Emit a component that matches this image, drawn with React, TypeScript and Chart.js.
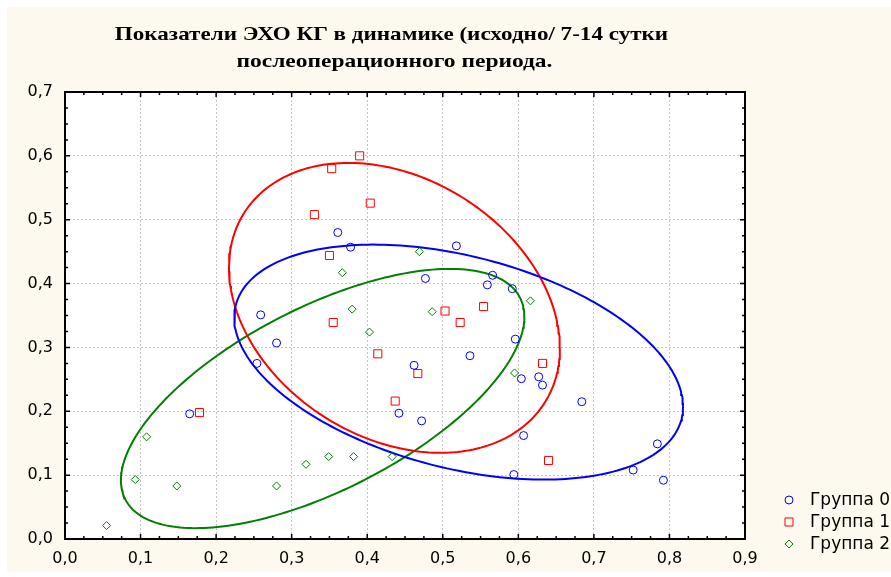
import React, { useEffect, useRef } from 'react';
import { Chart, registerables } from 'chart.js';

Chart.register(...registerables);

// Echo-CG indices per patient group
const group0X = [0.165, 0.254, 0.259, 0.280, 0.361, 0.378, 0.477, 0.518, 0.559, 0.566, 0.592, 0.596, 0.536, 0.462, 0.442, 0.472, 0.604, 0.627, 0.632, 0.607, 0.594, 0.684, 0.752, 0.784, 0.792];
const group0Y = [0.196, 0.275, 0.351, 0.307, 0.480, 0.457, 0.408, 0.459, 0.398, 0.413, 0.392, 0.313, 0.287, 0.272, 0.197, 0.185, 0.251, 0.254, 0.241, 0.162, 0.101, 0.215, 0.108, 0.149, 0.092];

const group1X = [0.178, 0.330, 0.353, 0.390, 0.404, 0.350, 0.355, 0.414, 0.467, 0.437, 0.503, 0.523, 0.554, 0.632, 0.640];
const group1Y = [0.198, 0.508, 0.580, 0.600, 0.526, 0.444, 0.339, 0.290, 0.259, 0.216, 0.357, 0.339, 0.364, 0.275, 0.123];

const group2X = [0.055, 0.093, 0.108, 0.148, 0.280, 0.319, 0.349, 0.382, 0.433, 0.367, 0.380, 0.403, 0.469, 0.486, 0.595, 0.616];
const group2Y = [0.021, 0.093, 0.160, 0.083, 0.083, 0.117, 0.129, 0.129, 0.129, 0.417, 0.360, 0.324, 0.450, 0.356, 0.260, 0.373];

// Ellipse per group: centre, half-extent along x and y, correlation
const ellipseCenterX = [0.521, 0.436, 0.341];
const ellipseCenterY = [0.277, 0.362, 0.220];
const ellipseHalfX = [0.297, 0.219, 0.267];
const ellipseHalfY = [0.184, 0.227, 0.203];
const ellipseCorr = [-0.379, -0.278, 0.631];

const groupNames = ['Группа 0', 'Группа 1', 'Группа 2'];
const groupColors = ['#0000ff', '#ff0000', '#008000'];
const groupMarkers = ['circle', 'rect', 'rectRot'];

const titleLines = ['Показатели ЭХО КГ в динамике (исходно/ 7-14 сутки', 'послеоперационного периода.'];

const xRange = [0, 0.9];
const yRange = [0, 0.7];
const majorStep = 0.1;
const minorStep = 0.025;

const fmt = (v: number) => v.toFixed(1).replace('.', ',');

const toPoints = (xs: number[], ys: number[]) => xs.map((x, i) => ({ x, y: ys[i] }));

// Outline of an ellipse given by its centre, x/y half-extents and correlation
function ellipseOutline(i: number, steps = 240) {
  const cx = ellipseCenterX[i];
  const cy = ellipseCenterY[i];
  const hx = ellipseHalfX[i];
  const hy = ellipseHalfY[i];
  const r = ellipseCorr[i];
  const q = Math.sqrt(1 - r * r);
  const pts: { x: number; y: number }[] = [];
  for (let k = 0; k <= steps; k++) {
    const t = (k / steps) * Math.PI * 2;
    const c = Math.cos(t);
    const s = Math.sin(t);
    pts.push({ x: cx + hx * c, y: cy + hy * (r * c + q * s) });
  }
  return pts;
}

const backgroundPlugin = {
  id: 'pageBackground',
  beforeDraw(chart: any) {
    const { ctx, width, height, chartArea } = chart;
    ctx.save();
    ctx.fillStyle = '#ffffff';
    ctx.fillRect(0, 0, width, height);
    ctx.fillStyle = '#fef9ee';
    ctx.fillRect(7, 7, width - 7, height - 12);
    ctx.fillStyle = '#ffffff';
    ctx.fillRect(chartArea.left, chartArea.top, chartArea.right - chartArea.left, chartArea.bottom - chartArea.top);
    ctx.restore();
  },
};

const drawStretched = (ctx: CanvasRenderingContext2D, text: string, x: number, y: number, sx: number) => {
  ctx.save();
  ctx.translate(x, y);
  ctx.scale(sx, 1);
  ctx.fillText(text, 0, 0);
  ctx.restore();
};

const framePlugin = {
  id: 'frameAndTicks',
  afterDraw(chart: any) {
    const { ctx, chartArea, scales } = chart;
    const { left, right, top, bottom } = chartArea;
    ctx.save();
    ctx.strokeStyle = '#000000';
    ctx.lineWidth = 1.5;
    ctx.beginPath();
    const nx = Math.round((xRange[1] - xRange[0]) / minorStep);
    for (let i = 0; i <= nx; i++) {
      const px = scales.x.getPixelForValue(xRange[0] + i * minorStep);
      const len = i % 4 === 0 ? 5 : 3;
      ctx.moveTo(px, bottom);
      ctx.lineTo(px, bottom - len);
      ctx.moveTo(px, top);
      ctx.lineTo(px, top + len);
    }
    const ny = Math.round((yRange[1] - yRange[0]) / minorStep);
    for (let i = 0; i <= ny; i++) {
      const py = scales.y.getPixelForValue(yRange[0] + i * minorStep);
      const len = i % 4 === 0 ? 5 : 3;
      ctx.moveTo(left, py);
      ctx.lineTo(left + len, py);
      ctx.moveTo(right, py);
      ctx.lineTo(right - len, py);
    }
    ctx.stroke();
    ctx.lineWidth = 2;
    ctx.strokeRect(left, top, right - left, bottom - top);

    // title
    ctx.fillStyle = '#000000';
    ctx.font = 'bold 19px "Liberation Serif", "Times New Roman", serif';
    ctx.textAlign = 'center';
    ctx.textBaseline = 'alphabetic';
    drawStretched(ctx, titleLines[0], 391.5, 40, 1.215);
    drawStretched(ctx, titleLines[1], 394.5, 67, 1.235);

    // legend
    ctx.font = '17px "DejaVu Sans", sans-serif';
    ctx.textAlign = 'left';
    ctx.textBaseline = 'middle';
    groupNames.forEach((name, i) => {
      const cy = 500 + i * 22;
      const cx = 789;
      ctx.strokeStyle = groupColors[i];
      ctx.lineWidth = 1;
      ctx.beginPath();
      if (groupMarkers[i] === 'circle') {
        ctx.arc(cx, cy, 4, 0, Math.PI * 2);
      } else if (groupMarkers[i] === 'rect') {
        ctx.rect(cx - 4, cy - 4, 8, 8);
      } else {
        ctx.moveTo(cx - 4, cy);
        ctx.lineTo(cx, cy - 4);
        ctx.lineTo(cx + 4, cy);
        ctx.lineTo(cx, cy + 4);
        ctx.closePath();
      }
      ctx.stroke();
      ctx.fillStyle = '#000000';
      ctx.fillText(name, 810, cy + 1);
    });
    ctx.restore();
  },
};

export default function App() {
  const canvasRef = useRef<HTMLCanvasElement | null>(null);

  useEffect(() => {
    const canvas = canvasRef.current;
    if (!canvas) return;
    const xs = [group0X, group1X, group2X];
    const ys = [group0Y, group1Y, group2Y];

    const pointSets = groupNames.map((name, i) => ({
      label: name,
      data: toPoints(xs[i], ys[i]),
      pointStyle: groupMarkers[i],
      pointRadius: groupMarkers[i] === 'rect' ? 5.7 : 4,
      pointBorderWidth: 1,
      pointBorderColor: groupColors[i],
      pointBackgroundColor: 'rgba(0,0,0,0)',
      borderColor: groupColors[i],
      backgroundColor: 'rgba(0,0,0,0)',
      showLine: false,
    }));

    const ellipseSets = groupNames.map((name, i) => ({
      label: name + ' ellipse',
      data: ellipseOutline(i),
      showLine: true,
      pointRadius: 0,
      borderWidth: 2,
      borderColor: groupColors[i],
      backgroundColor: 'rgba(0,0,0,0)',
      fill: false,
      tension: 0,
    }));

    const tickFont = { family: '"DejaVu Sans", sans-serif', size: 16 };

    const chart = new Chart(canvas, {
      type: 'scatter',
      data: { datasets: [...pointSets, ...ellipseSets] as any },
      options: {
        animation: false,
        responsive: false,
        maintainAspectRatio: false,
        layout: { padding: { left: 0, top: 92, right: 146, bottom: 0 } },
        plugins: {
          legend: { display: false },
          title: { display: false },
          tooltip: { enabled: false },
        },
        scales: {
          x: {
            type: 'linear',
            min: xRange[0],
            max: xRange[1],
            afterFit: (scale: any) => { scale.height = 38; },
            ticks: {
              stepSize: majorStep,
              color: '#000000',
              font: tickFont,
              padding: 10,
              maxRotation: 0,
              callback: (v: any) => fmt(Number(v)),
            },
            grid: { color: '#c4c4c4', lineWidth: 1, drawTicks: false },
            border: { display: false, dash: [2, 2] },
          },
          y: {
            type: 'linear',
            min: yRange[0],
            max: yRange[1],
            afterFit: (scale: any) => { scale.width = 65; },
            ticks: {
              stepSize: majorStep,
              color: '#000000',
              font: tickFont,
              padding: 12,
              callback: (v: any) => fmt(Number(v)),
            },
            grid: { color: '#c4c4c4', lineWidth: 1, drawTicks: false },
            border: { display: false, dash: [2, 2] },
          },
        },
      },
      plugins: [backgroundPlugin, framePlugin],
    });

    return () => chart.destroy();
  }, []);

  return (
    <div style={{ position: 'absolute', left: 0, top: 0, width: 891, height: 577 }}>
      <canvas ref={canvasRef} width={891} height={577} style={{ display: 'block' }} />
    </div>
  );
}
